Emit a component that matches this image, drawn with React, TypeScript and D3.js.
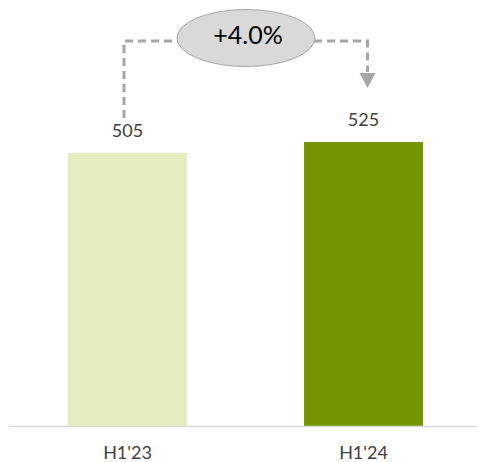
import React from "react";
import * as d3 from "d3";

const categories = ["H1'23", "H1'24"];
const values = [505, 525];
const barColors = ["#e4ecc0", "#739600"];

const W = 477;
const H = 462;
const baseY = 426;
const fontFamily = "Lato, 'Open Sans', sans-serif";

export default function App() {
  const x = d3
    .scaleBand<string>()
    .domain(categories)
    .range([9.5, 481.5])
    .paddingInner(0.496)
    .paddingOuter(0.248);
  const y = d3.scaleLinear().domain([0, 787.5]).range([baseY, 0]);

  const cx = (c: string) => (x(c) ?? 0) + x.bandwidth() / 2;
  const leftX = cx(categories[0]) - 3.5;
  const rightX = cx(categories[1]) + 4;
  const lineY = 41;
  const growth = (values[1] / values[0] - 1) * 100;
  const growthText = `${growth >= 0 ? "+" : ""}${growth.toFixed(1)}%`;

  const dash = { stroke: "#a6a6a6", strokeWidth: 3, strokeDasharray: "8 5", fill: "none" };

  return (
    <svg
      width={W}
      height={H}
      style={{ position: "absolute", left: 0, top: 0, background: "#fff" }}
      fontFamily={fontFamily}
    >
      {categories.map((c, i) => (
        <g key={c}>
          <rect
            x={x(c)}
            y={y(values[i])}
            width={x.bandwidth()}
            height={baseY - y(values[i])}
            fill={barColors[i]}
          />
          <text
            x={cx(c)}
            y={y(values[i]) - 16}
            textAnchor="middle"
            fontSize={18}
            fill="#404040"
          >
            {values[i]}
          </text>
          <text x={cx(c)} y={459} textAnchor="middle" fontSize={18} fill="#404040">
            {c}
          </text>
        </g>
      ))}
      <line x1={9} x2={W} y1={baseY + 0.5} y2={baseY + 0.5} stroke="#d9d9d9" strokeWidth={1.5} />

      {/* growth connector */}
      <path d={`M${leftX},118 V${lineY} H178`} {...dash} />
      <path d={`M314,${lineY} H${rightX} V72`} {...dash} />
      <path
        d={`M${rightX - 8},73 L${rightX + 8},73 L${rightX},88 Z`}
        fill="#a6a6a6"
      />
      <ellipse cx={246} cy={38} rx={69} ry={28.5} fill="#d9d9d9" stroke="#a6a6a6" strokeWidth={1} />
      <text x={248} y={44} textAnchor="middle" fontSize={25} fill="#000">
        {growthText}
      </text>
    </svg>
  );
}
